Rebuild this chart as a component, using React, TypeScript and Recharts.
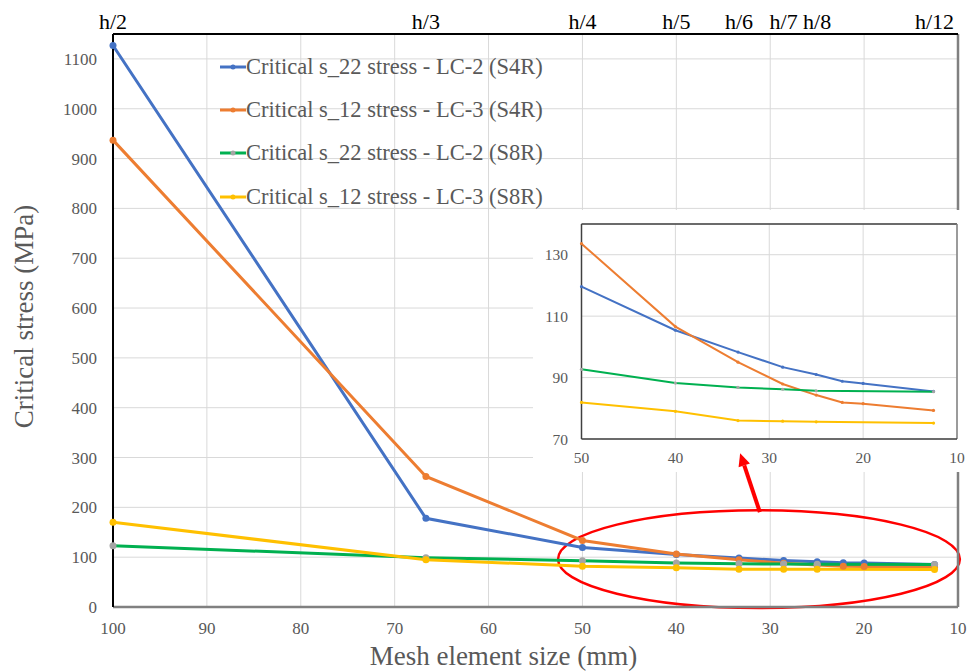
import {
  LineChart,
  Line,
  XAxis,
  YAxis,
  CartesianGrid,
  Legend,
  Label,
  ReferenceLine,
  ReferenceArea,
} from "recharts";

// mesh element size (mm) for each run
const meshSize = [100, 66.67, 50, 40, 33.33, 28.57, 25, 22.22, 20, 12.5];

// critical stresses (MPa)
const s22S4R = [1127, 178, 119.6, 105.4, 98.3, 93.4, 91, 88.8, 88.1, 85.5];
const s12S4R = [937, 262, 133.6, 106.6, 95, 87.9, 84.3, 81.9, 81.5, 79.3];
const s22S8R = [123, 99, 92.7, 88.2, 86.8, 86.2, 85.7, null, null, 85.4];
const s12S8R = [170, 95, 81.9, 79, 76, 75.8, 75.6, null, null, 75.2];

const xTicks = [100, 90, 80, 70, 60, 50, 40, 30, 20, 10];
const yTicks = [0, 100, 200, 300, 400, 500, 600, 700, 800, 900, 1000, 1100];
const meshTicks = [100, 66.67, 50, 40, 33.33, 28.57, 25, 12.5];
const meshLabels = ["h/2", "h/3", "h/4", "h/5", "h/6", "h/7", "h/8", "h/12"];
const insetXTicks = [50, 40, 30, 20, 10];
const insetYTicks = [70, 90, 110, 130];

const series = [
  { key: "s22S4R", name: "Critical s_22 stress - LC-2 (S4R)", color: "#4472C4", marker: "#4472C4" },
  { key: "s12S4R", name: "Critical s_12 stress - LC-3 (S4R)", color: "#ED7D31", marker: "#ED7D31" },
  { key: "s22S8R", name: "Critical s_22 stress - LC-2 (S8R)", color: "#00B050", marker: "#A5A5A5" },
  { key: "s12S8R", name: "Critical s_12 stress - LC-3 (S8R)", color: "#FFC000", marker: "#FFC000" },
];

const rows = meshSize.map((size, i) => ({
  size,
  s22S4R: s22S4R[i],
  s12S4R: s12S4R[i],
  s22S8R: s22S8R[i],
  s12S8R: s12S8R[i],
}));

const insetRows = rows.filter((r) => r.size <= 50);

const font = '"Liberation Serif", "Times New Roman", serif';
const textGrey = "#595959";
const gridGrey = "#d9d9d9";

const seriesIndex = (key: any) => series.findIndex((s) => s.key === key);

function LegendBox({ payload }: any) {
  const items = [...(payload || [])].sort(
    (a: any, b: any) => seriesIndex(a.dataKey) - seriesIndex(b.dataKey)
  );
  return (
    <div style={{ fontFamily: font, fontSize: 22.5, color: textGrey }}>
      {items.map((item: any) => {
        const s = series[seriesIndex(item.dataKey)];
        return (
          <div
            key={item.value}
            style={{ display: "flex", alignItems: "center", height: 43.3, whiteSpace: "nowrap" }}
          >
            <svg width={26} height={10} style={{ flex: "none" }}>
              <line x1={0} y1={5} x2={26} y2={5} stroke={s?.color} strokeWidth={3} />
              <circle cx={13} cy={5} r={2.5} fill={s?.marker} />
            </svg>
            <span>{item.value}</span>
          </div>
        );
      })}
    </div>
  );
}

function XTitle(props: any) {
  const vb = props.viewBox || { x: 113, y: 607, width: 845, height: 65 };
  return (
    <text
      x={vb.x + vb.width / 2 - 32}
      y={vb.y + 58}
      textAnchor="middle"
      fill={textGrey}
      fontFamily={font}
      fontSize={27}
    >
      Mesh element size (mm)
    </text>
  );
}

function YTitle(props: any) {
  const vb = props.viewBox || { x: 0, y: 34, width: 113, height: 573 };
  const cx = vb.x + 24;
  const cy = vb.y + vb.height / 2 - 4;
  return (
    <text
      x={cx}
      y={cy}
      transform={`rotate(-90 ${cx} ${cy})`}
      textAnchor="middle"
      dominantBaseline="central"
      fill={textGrey}
      fontFamily={font}
      fontSize={27}
    >
      Critical stress (MPa)
    </text>
  );
}

function Ellipse(props: any) {
  const { x, y, width, height } = props;
  return (
    <ellipse
      cx={x + width / 2}
      cy={y + height / 2}
      rx={width / 2}
      ry={height / 2}
      fill="none"
      stroke="#FF0000"
      strokeWidth={2.5}
    />
  );
}

function Arrow(props: any) {
  const { x1, y1, x2, y2 } = props;
  const dx = x2 - x1;
  const dy = y2 - y1;
  const len = Math.sqrt(dx * dx + dy * dy) || 1;
  const ux = dx / len;
  const uy = dy / len;
  const head = 13;
  const half = 6;
  const bx = x2 - ux * head;
  const by = y2 - uy * head;
  const pts = `${x2},${y2} ${bx - uy * half},${by + ux * half} ${bx + uy * half},${by - ux * half}`;
  return (
    <g>
      <line x1={x1} y1={y1} x2={bx} y2={by} stroke="#FF0000" strokeWidth={4} />
      <polygon points={pts} fill="#FF0000" />
    </g>
  );
}

export default function App() {
  return (
    <div style={{ position: "absolute", left: 0, top: 0, width: 968, height: 672, background: "#fff" }}>
      <style>{`
        .inset-wrap svg { overflow: visible; }
        .recharts-wrapper text, .recharts-legend-wrapper { font-family: "Liberation Serif", "Times New Roman", serif !important; font-weight: normal; }
      `}</style>

      <LineChart
        width={968}
        height={672}
        data={rows}
        margin={{ top: 0, right: 10, bottom: 0, left: 0 }}
      >
        <CartesianGrid xAxisId="bottom" stroke={gridGrey} strokeWidth={1} />

        <XAxis
          xAxisId="bottom"
          dataKey="size"
          type="number"
          domain={[10, 100]}
          reversed
          ticks={xTicks}
          interval={0}
          height={65}
          axisLine={{ stroke: "#808080", strokeWidth: 2.5 }}
          tickLine={false}
          tickSize={6}
          tickMargin={9}
          tick={{ fill: textGrey, fontSize: 17, fontFamily: font }}
        >
          <Label content={XTitle} />
        </XAxis>

        <XAxis
          xAxisId="top"
          orientation="top"
          dataKey="size"
          type="number"
          domain={[10, 100]}
          reversed
          ticks={meshTicks}
          interval={0}
          height={34}
          axisLine={{ stroke: "#000", strokeWidth: 2 }}
          tickLine={false}
          tickSize={0}
          tickMargin={5}
          tickFormatter={(v) => meshLabels[meshTicks.indexOf(v)] ?? ""}
          tick={{ fill: "#000", fontSize: 22, fontFamily: font }}
        />

        <YAxis
          type="number"
          domain={[0, 1150]}
          ticks={yTicks}
          interval={0}
          width={113}
          axisLine={{ stroke: "#000", strokeWidth: 2 }}
          tickLine={false}
          tickSize={6}
          tickMargin={10}
          tick={{ fill: textGrey, fontSize: 17, fontFamily: font }}
        >
          <Label content={YTitle} />
        </YAxis>

        <ReferenceLine xAxisId="bottom" x={10} stroke="#808080" strokeWidth={2.5} />

        <Legend
          layout="vertical"
          align="center"
          verticalAlign="middle"
          content={LegendBox}
          wrapperStyle={{ left: 220, top: 45, width: 360 }}
        />

        {series.map((s) => (
          <Line
            key={s.key}
            xAxisId="bottom"
            dataKey={s.key}
            name={s.name}
            stroke={s.color}
            strokeWidth={3}
            dot={{ r: 3.5, fill: s.marker, stroke: s.marker, strokeWidth: 0 }}
            activeDot={false}
            connectNulls
            isAnimationActive={false}
          />
        ))}

        <ReferenceArea
          xAxisId="bottom"
          x1={52.6}
          x2={9.8}
          y1={-2}
          y2={194}
          ifOverflow="visible"
          shape={Ellipse}
        />
      </LineChart>

      <div
        className="inset-wrap"
        style={{ position: "absolute", left: 533, top: 210, width: 435, height: 262, background: "#fff" }}
      >
        <LineChart
          width={435}
          height={262}
          data={insetRows}
          margin={{ top: 14, right: 11, bottom: 0, left: 0 }}
        >
          <CartesianGrid stroke={gridGrey} strokeWidth={1} />

          <XAxis
            dataKey="size"
            type="number"
            domain={[10, 50]}
            reversed
            ticks={insetXTicks}
            interval={0}
            height={33}
            axisLine={{ stroke: "#404040", strokeWidth: 1.5 }}
            tickLine={false}
            tickSize={6}
            tickMargin={7}
            tick={{ fill: textGrey, fontSize: 15.5, fontFamily: font }}
          />

          <YAxis
            type="number"
            domain={[70, 140]}
            ticks={insetYTicks}
            interval={0}
            width={48.5}
            axisLine={{ stroke: "#404040", strokeWidth: 1.5 }}
            tickLine={false}
            tickSize={6}
            tickMargin={7.5}
            tick={{ fill: textGrey, fontSize: 15.5, fontFamily: font }}
          />

          <ReferenceLine y={140} stroke="#404040" strokeWidth={1.5} />
          <ReferenceLine x={10} stroke="#808080" strokeWidth={1.5} />

          {series.map((s) => (
            <Line
              key={s.key}
              dataKey={s.key}
              name={s.name}
              stroke={s.color}
              strokeWidth={2}
              dot={{ r: 1.6, fill: s.marker, stroke: s.marker, strokeWidth: 0 }}
              activeDot={false}
              connectNulls
              isAnimationActive={false}
            />
          ))}

          <ReferenceLine
            segment={[
              { x: 31.0, y: 46.2 },
              { x: 33.1, y: 65.4 },
            ]}
            ifOverflow="visible"
            shape={Arrow}
          />
        </LineChart>
      </div>
    </div>
  );
}
